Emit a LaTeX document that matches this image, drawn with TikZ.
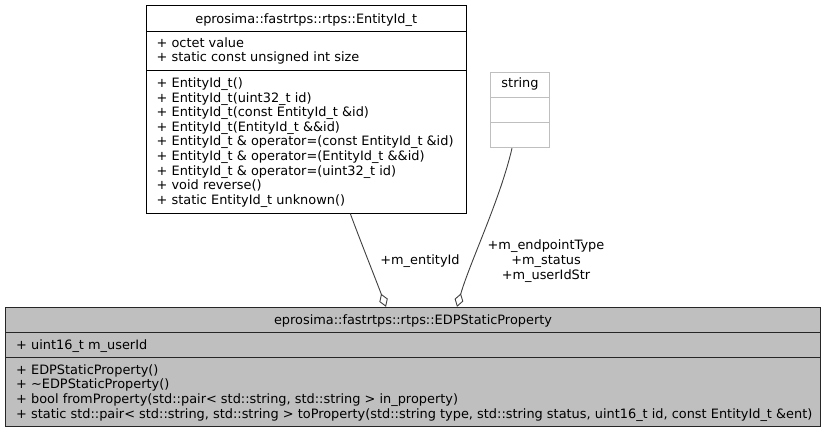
\documentclass[tikz,border=0pt]{standalone}
\usepackage{fontspec}
\setmainfont{DejaVu Sans}
\usetikzlibrary{positioning,arrows.meta,calc}
\tikzset{
  classbox/.style={draw=black, fill=white, line width=1pt, inner sep=0pt},
  edpbox/.style={draw=black!85, fill=black!25, line width=1pt, inner sep=0pt},
  stringbox/.style={draw=black!25, fill=white, line width=1pt, inner sep=0pt},
  boxtitle/.style={anchor=base, inner sep=0pt, font=\fontsize{12.9}{14.6}\selectfont},
  members/.style={anchor=north west, inner sep=0pt, align=left, font=\fontsize{12.9}{14.6}\selectfont},
  edgelabel/.style={anchor=north, inner sep=0pt, align=center, font=\fontsize{12.9}{15.2}\selectfont},
  aggregation/.style={draw=black!75, line width=0.9pt, {Diamond[open, fill=white, length=14pt, width=9pt]}-}
}
\begin{document}
\begin{tikzpicture}[x=1pt, y=-1pt]
  \useasboundingbox (0,0) rectangle (827,433);

  % EntityId_t class
  \node[classbox, minimum width=319.5, minimum height=207.5] (entity) at (306.25,109.25) {};
  \draw (146.5,31.7) -- (466,31.7);
  \draw (146.5,70.5) -- (466,70.5);
  \node[boxtitle] (entitytitle) at (306.25,23.3) {eprosima::fastrtps::rtps::EntityId\_t};
  \node[members] (entityattr) at (156.5,37) {+ octet value\\+ static const unsigned int size};
  \node[members] (entityops) at (156.5,77.5) {+ EntityId\_t()\\
    + EntityId\_t(uint32\_t id)\\
    + EntityId\_t(const EntityId\_t \&id)\\
    + EntityId\_t(EntityId\_t \&\&id)\\
    + EntityId\_t \& operator=(const EntityId\_t \&id)\\
    + EntityId\_t \& operator=(EntityId\_t \&\&id)\\
    + EntityId\_t \& operator=(uint32\_t id)\\
    + void reverse()\\
    + static EntityId\_t unknown()};

  % string class
  \node[stringbox, minimum width=58.5, minimum height=75.5] (string) at (520,110) {};
  \draw[black!25, line width=1pt] (490.75,97.3) -- (549.25,97.3);
  \draw[black!25, line width=1pt] (490.75,122.7) -- (549.25,122.7);
  \node[boxtitle] (stringtitle) at (520,88) {string};

  % EDPStaticProperty class
  \node[edpbox, minimum width=815.5, minimum height=119.3] (edp) at (413,367) {};
  \draw[black!85, line width=1pt] (5.25,332.7) -- (820.75,332.7);
  \draw[black!85, line width=1.4pt] (5.25,357.3) -- (820.75,357.3);
  \node[boxtitle] (edptitle) at (413,324.2) {eprosima::fastrtps::rtps::EDPStaticProperty};
  \node[members] (edpattr) at (16,339.5) {+ uint16\_t m\_userId};
  \node[members] (edpops) at (16,364.3) {+ EDPStaticProperty()\\
    + \textasciitilde EDPStaticProperty()\\
    + bool fromProperty(std::pair< std::string, std::string > in\_property)\\
    + static std::pair< std::string, std::string > toProperty(std::string type, std::string status, uint16\_t id, const EntityId\_t \&ent)};

  % aggregation connectors
  \coordinate (entityend) at ($(edp.north)+(-27,0)$);
  \coordinate (stringend) at ($(edp.north)+(44,0)$);
  \draw[aggregation] (entityend) .. controls (376,280) and (360,240) .. ($(entity.south)+(44,0)$);
  \draw[aggregation] (stringend) .. controls (470,262) and (500,200) .. ($(string.south)+(-8,0)$);
  \node[edgelabel] (entitylabel) at (420,254.5) {+m\_entityId};
  \node[edgelabel] (stringlabel) at (546,239) {+m\_endpointType\\+m\_status\\+m\_userIdStr};
\end{tikzpicture}
\end{document}
